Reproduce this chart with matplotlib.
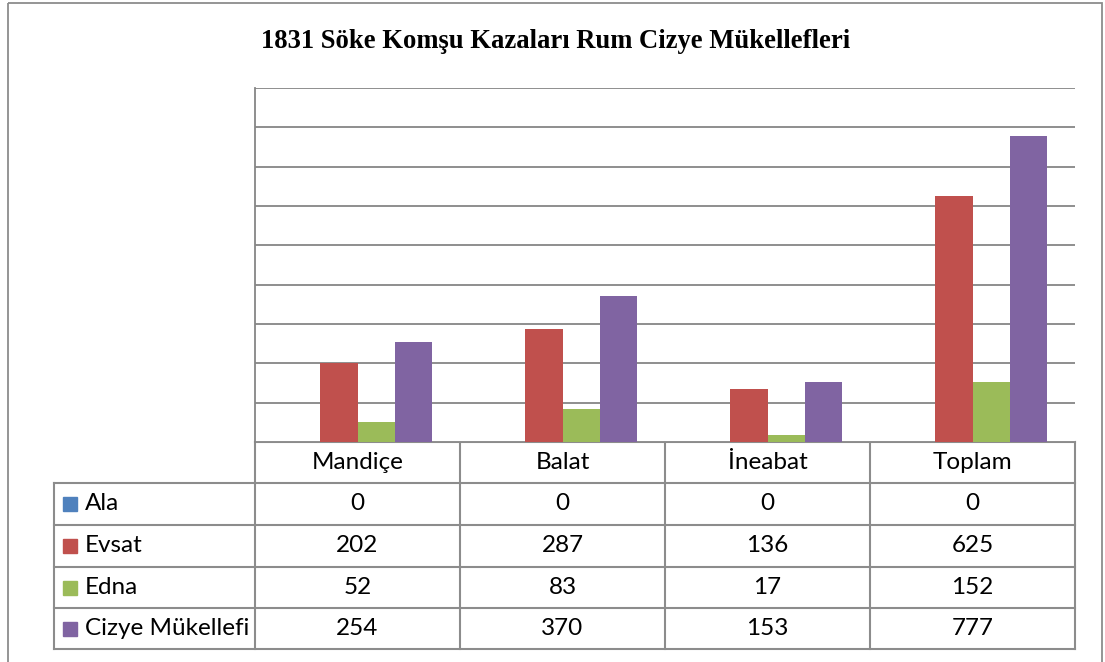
import matplotlib.pyplot as plt
from matplotlib.patches import Rectangle
import numpy as np

# veriler
kazalar = ["Mandiçe", "Balat", "İneabat", "Toplam"]
seriler = ["Ala", "Evsat", "Edna", "Cizye Mükellefi"]
ala = [0, 0, 0, 0]
evsat = [202, 287, 136, 625]
edna = [52, 83, 17, 152]
cizye = [254, 370, 153, 777]
renkler = ["#4F81BD", "#C0504D", "#9BBB59", "#8064A2"]

W, H = 1105, 662
fig = plt.figure(figsize=(W / 100, H / 100), dpi=100)


def kutu(x0, y0, x1, y1):
    # piksel koordinatlarini figure oranina cevir (y yukaridan asagi)
    return [x0 / W, 1 - y1 / H, (x1 - x0) / W, (y1 - y0) / H]


# dis cerceve
cerceve = fig.add_axes([0, 0, 1, 1])
cerceve.set_xlim(0, W)
cerceve.set_ylim(H, 0)
cerceve.axis("off")
cerceve.add_patch(Rectangle((8, 3), 1094, 700, fill=False, ec="#8c8c8c", lw=1.3))

fig.text(556 / W, 1 - 42 / H, "1831 Söke Komşu Kazaları Rum Cizye Mükellefleri",
         ha="center", va="center", fontsize=19.2, fontweight="bold", family="Liberation Serif")

# grafik alani
ax = fig.add_axes(kutu(255, 88, 1075, 442))
degerler = [ala, evsat, edna, cizye]
x = np.arange(len(kazalar))
bw = 1 / 5.5
for i, (seri, renk) in enumerate(zip(degerler, renkler)):
    ax.bar(x + (i - 1.5) * bw, seri, width=bw, color=renk, zorder=3)
ax.set_xlim(-0.5, len(kazalar) - 0.5)
ax.set_ylim(0, 900)
ax.set_yticks(np.arange(0, 901, 100))
ax.yaxis.grid(True, color="#868686", lw=1.3, zorder=0)
ax.tick_params(left=False, bottom=False, labelleft=False, labelbottom=False)
for s in ["right", "bottom"]:
    ax.spines[s].set_visible(False)
ax.spines["top"].set_visible(False)
ax.spines["left"].set_color("#868686")
ax.spines["left"].set_linewidth(1.3)

# veri tablosu
tx = [54, 255, 460, 665, 870, 1075]
ty = [442, 483, 525, 567, 608, 649]
cizgi = dict(color="#8c8c8c", lw=1.5)
cerceve.plot([tx[1], tx[-1]], [ty[0], ty[0]], **cizgi)
for yy in ty[1:]:
    cerceve.plot([tx[0], tx[-1]], [yy, yy], **cizgi)
cerceve.plot([tx[0], tx[0]], [ty[1], ty[-1]], **cizgi)
for xx in tx[1:]:
    cerceve.plot([xx, xx], [ty[0], ty[-1]], **cizgi)

yazi = dict(fontsize=17.5, family="Lato", va="center")
for j, kaza in enumerate(kazalar):
    cx = (tx[j + 1] + tx[j + 2]) / 2
    cerceve.text(cx, (ty[0] + ty[1]) / 2, kaza, ha="center", **yazi)
    for i, seri in enumerate(degerler):
        cy = (ty[i + 1] + ty[i + 2]) / 2
        cerceve.text(cx, cy, str(seri[j]), ha="center", **yazi)

for i, (ad, renk) in enumerate(zip(seriler, renkler)):
    cy = (ty[i + 1] + ty[i + 2]) / 2
    cerceve.add_patch(Rectangle((63, cy - 7), 14, 14, color=renk))
    cerceve.text(85, cy, ad, ha="left", **yazi)

fig.savefig("out.png", dpi=100)
